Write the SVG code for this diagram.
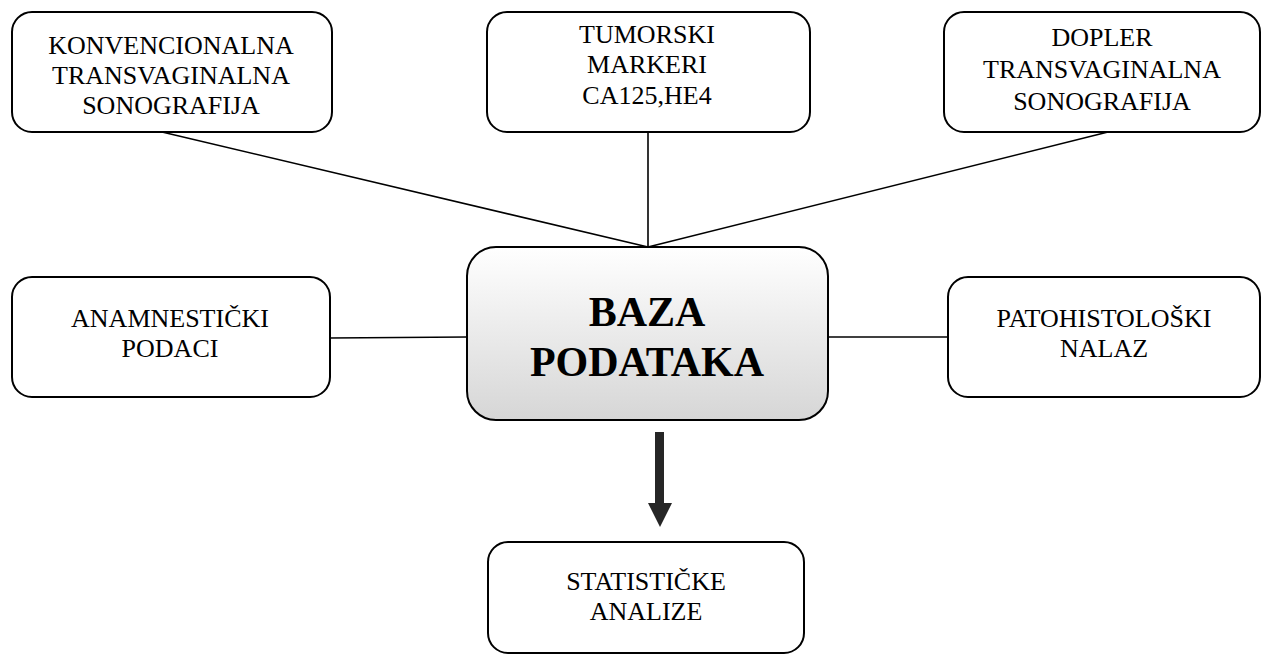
<svg xmlns="http://www.w3.org/2000/svg" width="1263" height="655" viewBox="0 0 1263 655">
<style>
.box{fill:#fff;stroke:#000;stroke-width:2}
.t{font-family:"Liberation Serif","Times New Roman",serif;font-size:26px;fill:#000;text-anchor:middle}
.tb{font-family:"Liberation Serif","Times New Roman",serif;font-size:42px;font-weight:bold;fill:#000;text-anchor:middle}
.c{stroke:#000;stroke-width:1.6;fill:none}
</style>
<defs>
<linearGradient id="g" x1="0" y1="0" x2="0" y2="1">
<stop offset="0" stop-color="#ffffff"/>
<stop offset="1" stop-color="#d6d6d6"/>
</linearGradient>
</defs>
<g id="connectors">
<line class="c" x1="162" y1="132" x2="648" y2="247"/>
<line class="c" x1="648" y1="132" x2="648" y2="247"/>
<line class="c" x1="1108" y1="132" x2="648" y2="247"/>
<line class="c" x1="330" y1="338" x2="467" y2="337"/>
<line class="c" x1="828" y1="337" x2="948" y2="337"/>
<polygon points="655,432 664,432 664,503 672,503 660,527 648,503 655,503" fill="#262626"/>
</g>
<g id="n-konv">
<rect class="box" x="12" y="12" width="320" height="120" rx="20"/>
<text class="t" x="171" y="54">KONVENCIONALNA</text>
<text class="t" x="171" y="84">TRANSVAGINALNA</text>
<text class="t" x="171" y="114">SONOGRAFIJA</text>
</g>
<g id="n-tum">
<rect class="box" x="487" y="12" width="323" height="120" rx="20"/>
<text class="t" x="647" y="43">TUMORSKI</text>
<text class="t" x="647" y="73">MARKERI</text>
<text class="t" x="647" y="104">CA125,HE4</text>
</g>
<g id="n-dop">
<rect class="box" x="944" y="12" width="316" height="120" rx="20"/>
<text class="t" x="1102" y="46">DOPLER</text>
<text class="t" x="1102" y="78">TRANSVAGINALNA</text>
<text class="t" x="1102" y="110">SONOGRAFIJA</text>
</g>
<g id="n-anam">
<rect class="box" x="12" y="277" width="318" height="120" rx="20"/>
<text class="t" x="170" y="327">ANAMNESTIČKI</text>
<text class="t" x="170" y="357">PODACI</text>
</g>
<g id="n-pat">
<rect class="box" x="948" y="277" width="312" height="120" rx="20"/>
<text class="t" x="1104" y="327">PATOHISTOLOŠKI</text>
<text class="t" x="1104" y="357">NALAZ</text>
</g>
<g id="n-baza">
<rect x="467" y="247" width="361" height="173" rx="29" fill="url(#g)" stroke="#000" stroke-width="2"/>
<text class="tb" x="647" y="326">BAZA</text>
<text class="tb" x="647" y="376">PODATAKA</text>
</g>
<g id="n-stat">
<rect class="box" x="488" y="542" width="316" height="111" rx="20"/>
<text class="t" x="646" y="590">STATISTIČKE</text>
<text class="t" x="646" y="620">ANALIZE</text>
</g>
</svg>
